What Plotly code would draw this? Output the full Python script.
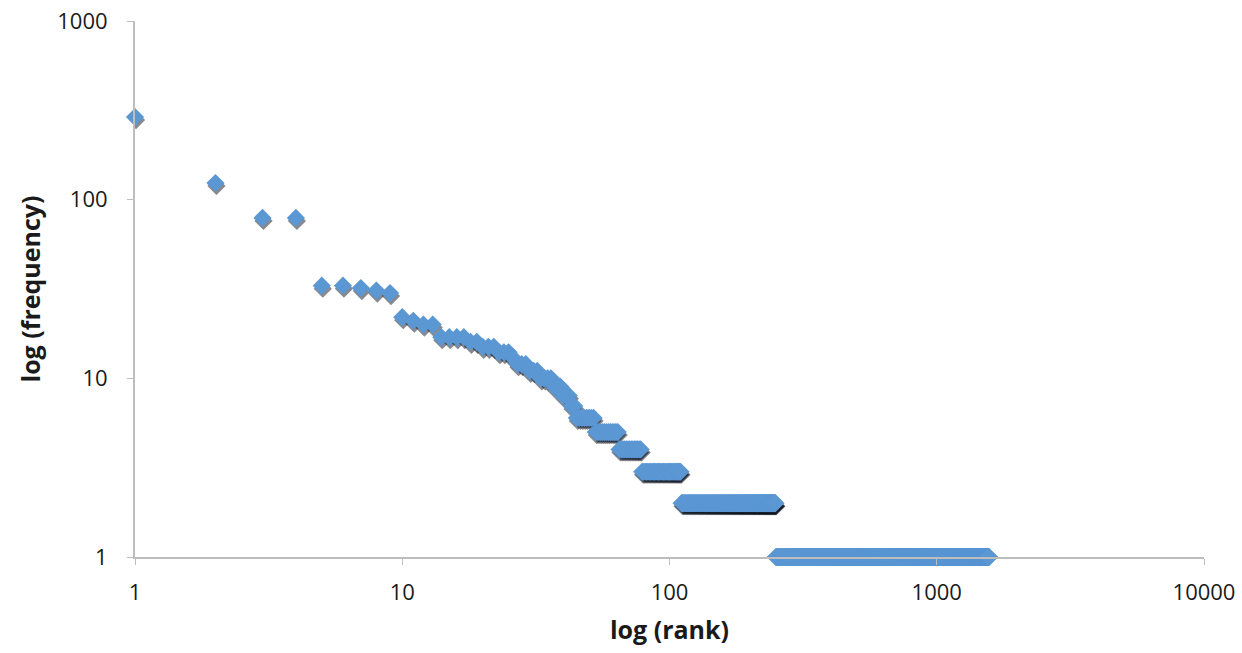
import plotly.graph_objects as go

# Frequencies read for the first 44 ranks (rank = position + 1)
head_freq = [290, 124, 79, 79, 33, 33, 32, 31, 30, 22,
             21, 20, 20, 17, 17, 17, 17, 16, 16, 15,
             15, 15, 14, 14, 14, 13, 12, 12, 12, 11,
             11, 11, 10, 10, 10, 10, 9, 9, 9, 8,
             8, 8, 7, 7]
# Tail: runs of equal frequency, given as frequency and last rank of the run
tail_freq = [6, 5, 4, 3, 2, 1]
tail_last_rank = [52, 64, 78, 110, 249, 1566]

x_ticks = [1, 10, 100, 1000, 10000]
y_ticks = [1, 10, 100, 1000]

ranks = list(range(1, len(head_freq) + 1))
freqs = list(head_freq)
r = len(head_freq)
for f, last in zip(tail_freq, tail_last_rank):
    while r < last:
        r += 1
        ranks.append(r)
        freqs.append(f)

font_fam = "Open Sans, Lato, sans-serif"
axis_col = "#BDBDBD"

fig = go.Figure()

# transparent copy on the base axes so the visible axes are drawn
fig.add_trace(go.Scatter(
    x=ranks, y=freqs, mode="markers",
    marker=dict(symbol="diamond", size=14, opacity=0),
    cliponaxis=False, hoverinfo="skip", showlegend=False))

# soft shadow drawn on a slightly shifted hidden axis pair (below the main markers)
fig.add_trace(go.Scatter(
    x=ranks, y=freqs, mode="markers", xaxis="x2", yaxis="y2",
    marker=dict(symbol="diamond", size=14, color="rgba(15,20,30,0.5)", line=dict(width=0)),
    cliponaxis=True, hoverinfo="skip", showlegend=False))

# main markers on an identical overlay so they are drawn above the shadow
fig.add_trace(go.Scatter(
    x=ranks, y=freqs, mode="markers", xaxis="x3", yaxis="y3",
    marker=dict(symbol="diamond", size=14, color="#5B97D3", line=dict(width=0)),
    cliponaxis=False, showlegend=False))

dx = 1.0 / 267.0
dy = 3.0 / 178.7

fig.update_layout(
    width=1242, height=653,
    margin=dict(l=135, r=38, t=21, b=96, autoexpand=False),
    paper_bgcolor="white", plot_bgcolor="white",
    font=dict(family=font_fam, size=22, color="#1A1A1A"),
    xaxis=dict(
        type="log", range=[0, 4], tickvals=x_ticks, ticktext=[str(v) for v in x_ticks],
        showgrid=False, zeroline=False, showline=True, linecolor=axis_col, linewidth=2,
        ticks="outside", ticklen=6, tickcolor=axis_col, tickwidth=1,
        ticklabelstandoff=9, automargin=False,
        title=dict(text="<b>log (rank)</b>", font=dict(size=25, family=font_fam), standoff=16),
    ),
    yaxis=dict(
        type="log", range=[0, 3], tickvals=y_ticks, ticktext=[str(v) for v in y_ticks],
        showgrid=False, zeroline=False, showline=True, linecolor=axis_col, linewidth=2,
        ticks="outside", ticklen=6, tickcolor=axis_col, tickwidth=1,
        ticklabelstandoff=15, automargin=False,
        title=dict(text="<b>log (frequency)</b>", font=dict(size=25, family=font_fam), standoff=10),
    ),
    xaxis2=dict(type="log", range=[0 - dx, 4 - dx], overlaying="x", visible=False),
    yaxis2=dict(type="log", range=[0 + dy, 3 + dy], overlaying="y", visible=False),
    xaxis3=dict(type="log", range=[0, 4], overlaying="x", visible=False),
    yaxis3=dict(type="log", range=[0, 3], overlaying="y", visible=False),
)

fig.write_html("out.html")
